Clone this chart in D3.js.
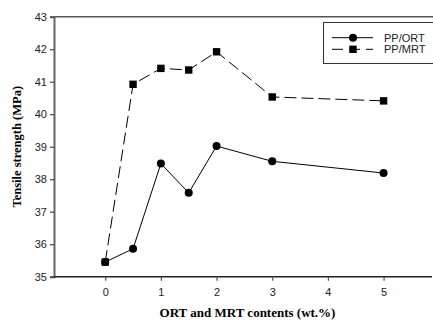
<!DOCTYPE html>
<html><head><meta charset="utf-8">
<script src="https://cdn.jsdelivr.net/npm/d3@7"></script>
<style>body{margin:0;background:#fff}svg{display:block}</style>
</head><body><svg id="c" width="433" height="320"></svg>
<script>
const xValues = [0, 0.5, 1, 1.5, 2, 3, 5];
const ortValues = [35.45, 35.86, 38.48, 37.58, 39.02, 38.55, 38.19];
const mrtValues = [35.45, 40.92, 41.41, 41.36, 41.92, 40.53, 40.41];
const xTicks = [0, 1, 2, 3, 4, 5];
const yTicks = [35, 36, 37, 38, 39, 40, 41, 42, 43];
const seriesNames = ["PP/ORT", "PP/MRT"];

const svg = d3.select("#c");
const x = d3.scaleLinear().domain([-0.92, 5.87]).range([54, 432]);
const y = d3.scaleLinear().domain([35, 43]).range([276.7, 16.7]);
const sans = "'Liberation Sans', Arial, sans-serif";
const serif = "'Liberation Serif', 'Times New Roman', serif";

// top line
svg.append("line").attr("x1", 54).attr("x2", 433).attr("y1", y(43)).attr("y2", y(43))
  .attr("stroke", "#555").attr("stroke-width", 1.5);

// y axis
const ya = svg.append("g").attr("transform", "translate(54,0)")
  .call(d3.axisLeft(y).tickValues(yTicks).tickSize(4).tickPadding(3).tickFormat(d3.format("d")));
ya.select(".domain").attr("stroke", "#666").attr("stroke-width", 2);
ya.selectAll(".tick line").attr("stroke", "#444").attr("stroke-width", 1.2);
ya.selectAll("text").attr("font-family", sans).attr("font-size", 11).attr("fill", "#222");

// x axis
const xa = svg.append("g").attr("transform", `translate(0,${y(35)})`)
  .call(d3.axisBottom(x).tickValues(xTicks).tickSize(4).tickPadding(8).tickFormat(d3.format("d")));
xa.select(".domain").attr("stroke", "#222").attr("stroke-width", 1.5).attr("d", `M54,0H432`);
xa.selectAll(".tick line").attr("stroke", "#555").attr("stroke-width", 1.2);
xa.selectAll("text").attr("font-family", sans).attr("font-size", 11).attr("fill", "#222");

// titles
svg.append("text").attr("transform", `translate(21,${(y(35)+y(43))/2}) rotate(-90)`)
  .attr("text-anchor", "middle").attr("font-family", serif).attr("font-weight", "bold")
  .attr("font-size", 12.5).text("Tensile strength (MPa)");
svg.append("text").attr("x", 247.5).attr("y", 317).attr("text-anchor", "middle")
  .attr("font-family", serif).attr("font-weight", "bold").attr("font-size", 13)
  .text("ORT and MRT contents (wt.%)");

const line = d3.line().x(d => x(d[0])).y(d => y(d[1]));
const ort = xValues.map((v, i) => [v, ortValues[i]]);
const mrt = xValues.map((v, i) => [v, mrtValues[i]]);

svg.append("path").datum(mrt).attr("d", line).attr("fill", "none").attr("stroke", "#000")
  .attr("stroke-width", 1).attr("stroke-dasharray", "12,5");
svg.append("path").datum(ort).attr("d", line).attr("fill", "none").attr("stroke", "#000")
  .attr("stroke-width", 1);

svg.selectAll(".sq").data(mrt).enter().append("rect")
  .attr("x", d => x(d[0]) - 3.7).attr("y", d => y(d[1]) - 3.7)
  .attr("width", 7.4).attr("height", 7.4).attr("fill", "#000");
svg.selectAll(".ci").data(ort).enter().append("circle")
  .attr("cx", d => x(d[0])).attr("cy", d => y(d[1])).attr("r", 4).attr("fill", "#000");

// legend
const lg = svg.append("g");
lg.append("rect").attr("x", 323.5).attr("y", 22.5).attr("width", 130).attr("height", 41)
  .attr("fill", "#fff").attr("stroke", "#333").attr("stroke-width", 1);
const rows = [37.7, 49.3];
seriesNames.forEach((name, i) => {
  const ly = rows[i];
  lg.append("line").attr("x1", 332).attr("x2", 373).attr("y1", ly).attr("y2", ly)
    .attr("stroke", "#000").attr("stroke-width", 1)
    .attr("stroke-dasharray", i === 1 ? "11,6" : null);
  if (i === 0) lg.append("circle").attr("cx", 353).attr("cy", ly).attr("r", 4).attr("fill", "#000");
  else lg.append("rect").attr("x", 349.3).attr("y", ly - 3.7).attr("width", 7.4).attr("height", 7.4).attr("fill", "#000");
  lg.append("text").attr("x", 384).attr("y", ly + 4).attr("font-family", sans).attr("font-size", 11)
    .attr("fill", "#222").text(name);
});
</script></body></html>
